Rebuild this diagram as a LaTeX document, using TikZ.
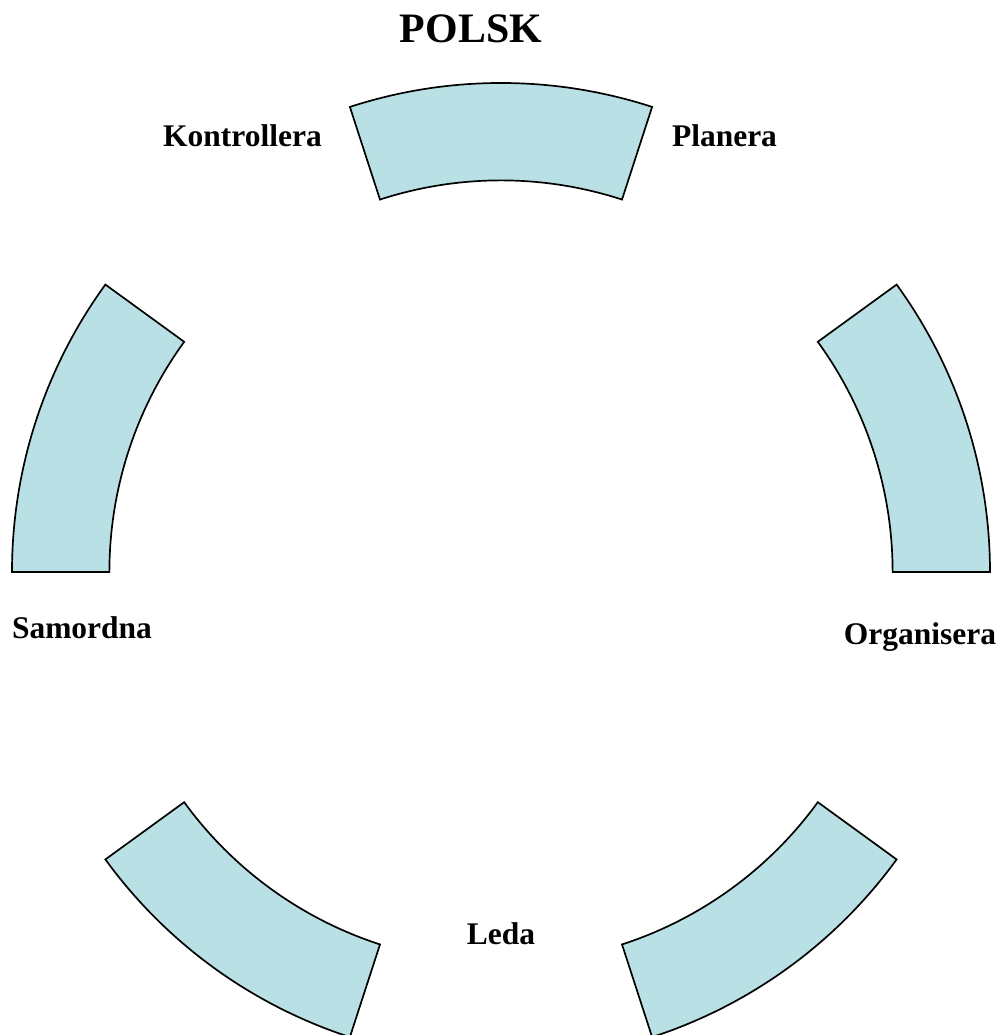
\documentclass[tikz,border=0pt]{standalone}
\usepackage{fontspec}
\setmainfont{Liberation Serif}
\usepackage{tikz}
\usepackage{xcolor}
\definecolor{ringblue}{RGB}{185,224,228}

\begin{document}
\begin{tikzpicture}[
  seg/.style={draw=black, line width=1.2pt, fill=ringblue, line join=miter},
  lbl/.style={anchor=base, inner sep=0pt, font=\fontsize{22.4}{26}\selectfont\bfseries}
]
\useasboundingbox (-12.525,-11.575) rectangle (12.525,14.3);
% Ring aus fuenf Segmenten
\foreach \a in {0,72,144,216,288} {
  \draw[seg] (\a:12.225) arc[start angle=\a, end angle=\a+36, radius=12.225]
    -- (\a+36:9.79) arc[start angle=\a+36, end angle=\a, radius=9.79] -- cycle;
}
\node[anchor=base, inner sep=0pt, font=\fontsize{29.8}{34}\selectfont\bfseries] (title) at (-0.75,13.225) {POLSK};
\node[lbl] (kontrollera) at (-6.4625,10.625) {Kontrollera};
\node[lbl] (planera) at (5.5875,10.625) {Planera};
\node[lbl] (samordna) at (-10.475,-1.675) {Samordna};
\node[lbl] (organisera) at (10.475,-1.825) {Organisera};
\node[lbl] (leda) at (0,-9.3) {Leda};
\end{tikzpicture}
\end{document}
